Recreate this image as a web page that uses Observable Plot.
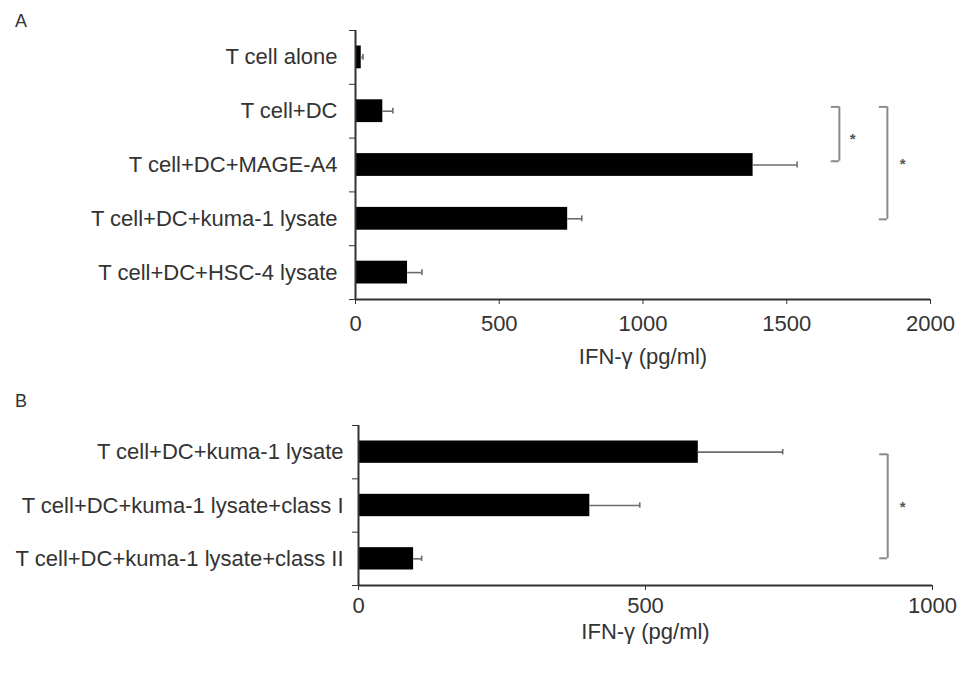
<!DOCTYPE html>
<html>
<head>
<meta charset="utf-8">
<script src="https://cdn.jsdelivr.net/npm/d3@7"></script>
<script src="https://cdn.jsdelivr.net/npm/@observablehq/plot@0.6"></script>
<style>
  html, body { margin: 0; padding: 0; background: #fff; }
  #wrap { position: relative; width: 969px; height: 673px; overflow: hidden; font-family: "Liberation Sans", Arial, sans-serif; }
  .plabel { position: absolute; font-size: 18px; line-height: 18px; color: #333; }
  svg { display: block; }
</style>
</head>
<body>
<div id="wrap">
  <div class="plabel" style="left:15px; top:12px;">A</div>
  <div class="plabel" style="left:15px; top:392px;">B</div>
  <div id="pa"></div>
  <div id="pb"></div>
</div>
<script>
// ---------- Panel A data ----------
const catsA = ["T cell alone", "T cell+DC", "T cell+DC+MAGE-A4", "T cell+DC+kuma-1 lysate", "T cell+DC+HSC-4 lysate"];
const meansA = [20, 95, 1383, 738, 181];
const errsA = [6, 35, 153, 49, 50];
const ticksA = [0, 500, 1000, 1500, 2000];
const bracketXA = [1683, 1850];
const bracketTopA = [1.42, 1.42];
const bracketBotA = [2.43, 3.51];
const starXA = [1729, 1903];
const starYA = [1.94, 2.41];

// ---------- Panel B data ----------
const catsB = ["T cell+DC+kuma-1 lysate", "T cell+DC+kuma-1 lysate+class I", "T cell+DC+kuma-1 lysate+class II"];
const meansB = [592, 403, 96];
const errsB = [147, 87, 14];
const ticksB = [0, 500, 1000];
const bracketXB = [922];
const bracketTopB = [0.54];
const bracketBotB = [2.49];
const starXB = [948];
const starYB = [1.46];

const axisTitle = "IFN-γ (pg/ml)";

function panel(o) {
  const n = o.cats.length;
  const rows = o.cats.map((c, i) => ({c, i, v: o.means[i], e: o.errs[i]}));
  const brackets = o.brX.map((x, k) => ({x, top: o.brTop[k], bot: o.brBot[k]}));
  const arms = brackets.flatMap(b => [{x: b.x, y: b.top}, {x: b.x, y: b.bot}]);
  const stars = o.stX.map((x, k) => ({x, y: o.stY[k]}));
  const font = "'Liberation Sans', Arial, sans-serif";
  return Plot.plot({
    width: 969,
    height: o.height,
    marginTop: o.marginTop,
    marginBottom: o.marginBottom,
    marginLeft: o.marginLeft,
    marginRight: o.marginRight,
    style: {fontFamily: font, fontSize: "22px", color: "#333", background: "white", overflow: "visible"},
    x: {domain: [0, o.ticks[o.ticks.length - 1]]},
    y: {domain: [n, 0]},
    marks: [
      // bars
      Plot.rectX(rows, {x1: 0, x2: "v", y1: d => d.i, y2: d => d.i + 1, insetTop: 15.5, insetBottom: 15.5, fill: "#000"}),
      // error bars (positive side)
      Plot.ruleY(rows, {x1: "v", x2: d => d.v + d.e, y: d => d.i + 0.5, stroke: "#6b6b6b", strokeWidth: 1.6}),
      Plot.ruleX(rows, {x: d => d.v + d.e, y1: d => d.i, y2: d => d.i + 1, insetTop: 24, insetBottom: 24, stroke: "#6b6b6b", strokeWidth: 1.6}),
      // significance brackets
      Plot.ruleX(brackets, {x: "x", y1: "top", y2: "bot", stroke: "#8a8a8a", strokeWidth: 2}),
      Plot.ruleY(arms, {x1: d => d.x - o.arm, x2: "x", y: "y", stroke: "#8a8a8a", strokeWidth: 2}),
      Plot.text(stars, {x: "x", y: "y", text: () => "*", fontSize: 15, fill: "#555", dy: 4, fontWeight: "bold"}),
      // category boundary ticks on y axis
      Plot.axisY({ticks: d3.range(n + 1), tickSize: 6, tickFormat: () => "", label: null, color: "#333"}),
      // category labels
      Plot.axisY({ticks: d3.range(n).map(i => i + 0.5), tickSize: 0, tickPadding: o.labelPad,
                  tickFormat: v => o.cats[Math.round(v - 0.5)], label: null, fontSize: 22, color: "#333"}),
      // x axis ticks and labels
      Plot.axisX({ticks: o.ticks, tickSize: 5, tickPadding: o.tickPad, tickFormat: d => String(d), label: null, fontSize: 22, color: "#333"}),
      // axis lines
      Plot.ruleX([0], {stroke: "#333", strokeWidth: 2}),
      Plot.ruleY([n], {stroke: "#333", strokeWidth: 2}),
      // axis title
      Plot.text([axisTitle], {frameAnchor: "bottom", dy: o.titleDy, lineAnchor: "middle", text: d => d, fontSize: 22, fill: "#333"})
    ]
  });
}

document.getElementById("pa").append(panel({
  cats: catsA, means: meansA, errs: errsA, ticks: ticksA,
  brX: bracketXA, brTop: bracketTopA, brBot: bracketBotA, stX: starXA, stY: starYA, arm: 28,
  height: 375, marginTop: 30, marginBottom: 76, marginLeft: 355, marginRight: 39,
  labelPad: 18, tickPad: 11, titleDy: 57
}));

document.getElementById("pb").append(panel({
  cats: catsB, means: meansB, errs: errsB, ticks: ticksB,
  brX: bracketXB, brTop: bracketTopB, brBot: bracketBotB, stX: starXB, stY: starYB, arm: 14,
  height: 298, marginTop: 50, marginBottom: 88, marginLeft: 358, marginRight: 37,
  labelPad: 15, tickPad: 7, titleDy: 46
}));
</script>
</body>
</html>
